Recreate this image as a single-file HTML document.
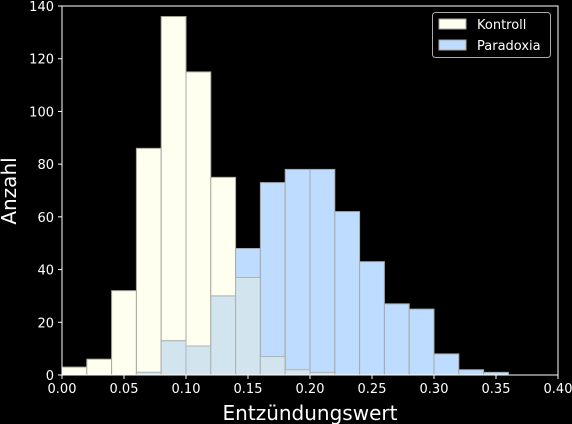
<!DOCTYPE html>
<html><head><meta charset="utf-8"><style>
html,body{margin:0;background:#000;width:572px;height:424px;overflow:hidden;font-family:"DejaVu Sans","Liberation Sans",sans-serif}
svg{display:block}
svg text{fill:#fff}
</style></head><body>
<svg id="c" width="572" height="424">
<rect width="572" height="424" fill="#000"/>
<g id="bars"></g>
<g id="axes"></g>
</svg>
<script>
const binStarts=[0,0.02,0.04,0.06,0.08,0.10,0.12,0.14,0.16,0.18,0.20,0.22,0.24,0.26,0.28,0.30,0.32,0.34];
const kontroll=[3,6,32,86,136,115,75,37,7,2,1,0,0,0,0,0,0,0];
const paradoxia=[0,0,0,1,13,11,30,48,73,78,78,62,43,27,25,8,2,1];
const xTicks=[0,0.05,0.10,0.15,0.20,0.25,0.30,0.35,0.40];
const xTickLabels=["0.00","0.05","0.10","0.15","0.20","0.25","0.30","0.35","0.40"];
const yTicks=[0,20,40,60,80,100,120,140];
const binWidth=0.02;
const NS="http://www.w3.org/2000/svg";
const X=v=>62+v*1240, Y=v=>375-v*369/140;
function mk(tag,attrs,parent){const e=document.createElementNS(NS,tag);for(const k in attrs)e.setAttribute(k,attrs[k]);parent.appendChild(e);return e;}
const bars=document.getElementById('bars'),axes=document.getElementById('axes');
binStarts.forEach((b,i)=>{
  const x0=X(b),w=X(b+binWidth)-x0;
  if(kontroll[i]>0){const r=mk('rect',{x:x0,y:Y(kontroll[i]),width:w,height:Y(0)-Y(kontroll[i]),fill:'#fffff0',stroke:'#a8a8a0','stroke-width':1},bars);
  
  }
});
binStarts.forEach((b,i)=>{
  const x0=X(b),w=X(b+binWidth)-x0;
  if(paradoxia[i]>0){const r=mk('rect',{x:x0,y:Y(paradoxia[i]),width:w,height:Y(0)-Y(paradoxia[i]),fill:'#bddcff',stroke:'#a8a8a0','stroke-width':1},bars);
  
  }
  const m=Math.min(kontroll[i],paradoxia[i]);
  if(m>0){const o=mk('rect',{x:x0,y:Y(m),width:w,height:Y(0)-Y(m),fill:'#d2e4ee',stroke:'#b0b4b4','stroke-width':1},bars);
  
  }
});
mk('rect',{x:62,y:6,width:496,height:369,fill:'none',stroke:'#fff','stroke-width':1},axes);
xTicks.forEach((t,i)=>{
  mk('line',{x1:X(t),x2:X(t),y1:375,y2:379,stroke:'#fff'},axes);
  const tx=mk('text',{x:X(t),y:393,'text-anchor':'middle','font-size':13},axes);tx.textContent=xTickLabels[i];
  
  
});
yTicks.forEach(t=>{
  mk('line',{x1:58,x2:62,y1:Y(t),y2:Y(t),stroke:'#fff'},axes);
  const tx=mk('text',{x:54,y:Y(t)+5,'text-anchor':'end','font-size':13},axes);tx.textContent=t;
  
  
});
</script>
<svg style="position:absolute;left:0;top:0" width="572" height="424">
<text x="310" y="420" text-anchor="middle" font-size="20">Entzündungswert</text>
<text transform="translate(16,191) rotate(-90)" text-anchor="middle" font-size="20">Anzahl</text>
<g>
<rect x="432.5" y="12.5" width="118" height="45" rx="3" fill="#000" stroke="#aaa"/>
<rect x="439" y="19" width="27" height="10" fill="#fffff0" stroke="#a8a8a0"/>
<text x="477" y="29" font-size="13">Kontroll</text>
<rect x="439" y="40" width="27" height="10" fill="#bddcff" stroke="#a8a8a0"/>
<text x="477" y="50" font-size="13">Paradoxia</text>
</g>
</svg>
</body></html>
